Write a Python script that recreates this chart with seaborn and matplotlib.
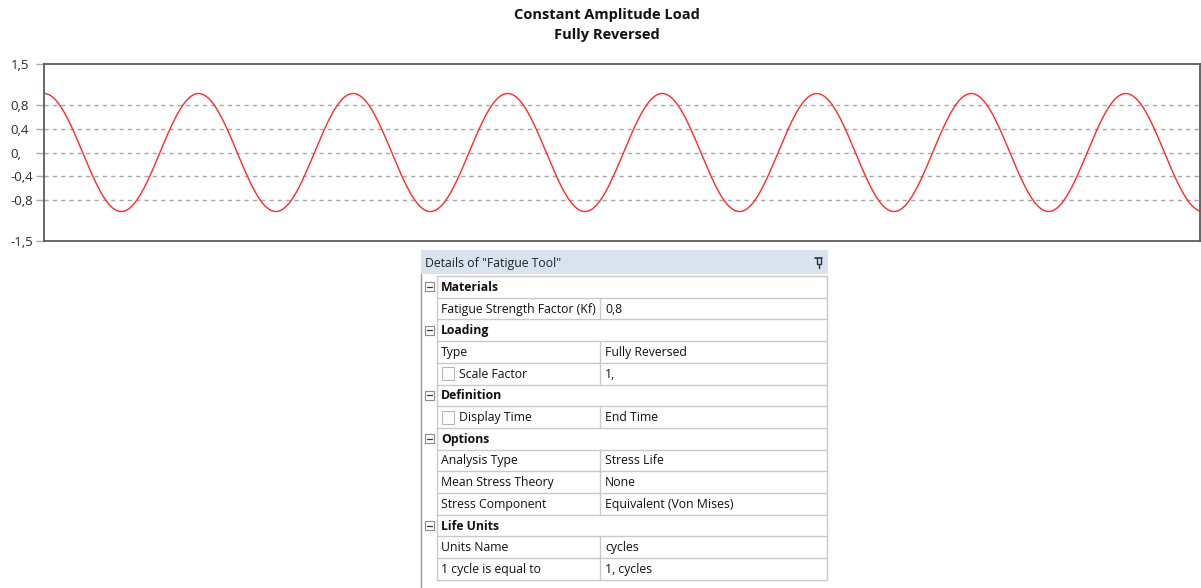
import numpy as np
import pandas as pd
import matplotlib
matplotlib.use("Agg")
import matplotlib.pyplot as plt
from matplotlib.patches import Rectangle
import seaborn as sns

# --- chart data ---
title_lines = ["Constant Amplitude Load", "Fully Reversed"]
amplitude = 1.0          # peak load
n_cycles = 7.48          # cycles visible across the axis
y_ticks = [-1.5, -0.8, -0.4, 0.0, 0.4, 0.8, 1.5]
y_tick_labels = ["-1,5", "-0,8", "-0,4", "0,", "0,4", "0,8", "1,5"]
grid_levels = [-0.8, -0.4, 0.0, 0.4, 0.8]

# --- details panel ---
panel_title = 'Details of "Fatigue Tool"'
row_names = ["Materials", "Fatigue Strength Factor (Kf)", "Loading", "Type", "Scale Factor",
             "Definition", "Display Time", "Options", "Analysis Type", "Mean Stress Theory",
             "Stress Component", "Life Units", "Units Name", "1 cycle is equal to"]
row_values = ["", "0,8", "", "Fully Reversed", "1,", "", "End Time", "", "Stress Life",
              "None", "Equivalent (Von Mises)", "", "cycles", "1, cycles"]
row_kinds = ["cat", "prop", "cat", "prop", "check", "cat", "check", "cat", "prop", "prop",
             "prop", "cat", "prop", "prop"]

sns.set_style("white")
plt.rcParams["font.family"] = ["Open Sans", "DejaVu Sans"]

W, H = 1201, 588
fig = plt.figure(figsize=(W / 100, H / 100), dpi=100)

# main load history axis (pixel box 44..1200 x 64..241)
ax = fig.add_axes([44 / W, 1 - 241 / H, (1200 - 44) / W, (241 - 64) / H])
t = np.linspace(0, n_cycles, 2000)
df = pd.DataFrame({"t": t, "load": amplitude * np.cos(2 * np.pi * t)})
sns.lineplot(data=df, x="t", y="load", ax=ax, color="#ff2a2a", linewidth=1.0)

for lv in grid_levels:
    ax.axhline(lv, color="#a8a8a8", linewidth=1.0, linestyle=(0, (3, 3)), zorder=0)

ax.set_xlim(0, n_cycles)
ax.set_ylim(-1.5, 1.5)
ax.set_xticks([])
ax.set_yticks(y_ticks)
ax.set_yticklabels(y_tick_labels)
ax.set_xlabel("")
ax.set_ylabel("")
ax.tick_params(axis="y", left=True, length=6, width=1, color="#a8a8a8",
               pad=18, labelsize=9.5, labelcolor="#2a2a2a")
for lab in ax.get_yticklabels():
    lab.set_horizontalalignment("left")
for sp in ax.spines.values():
    sp.set_color("#5a5a5a")
    sp.set_linewidth(1.3)

fig.text(607 / W, 1 - 15 / H, title_lines[0], ha="center", va="center",
         fontsize=10.5, fontweight="bold", color="#111111")
fig.text(607 / W, 1 - 35 / H, title_lines[1], ha="center", va="center",
         fontsize=10.5, fontweight="bold", color="#111111")

# details panel drawn in pixel coordinates
tab = fig.add_axes([0, 0, 1, 1], facecolor="none")
tab.set_xlim(0, W)
tab.set_ylim(H, 0)
tab.axis("off")

x0, x_gut, x_mid, x1 = 421, 437, 600, 827
hdr_top, hdr_bot = 250, 274
row_top, row_h = 276, 21.7
line_c = "#c9c9c9"
fs = 8.8

tab.add_patch(Rectangle((x0, hdr_top), x1 + 1 - x0, hdr_bot - hdr_top,
                        facecolor="#d8e3ef", edgecolor="none"))
tab.text(x0 + 4, (hdr_top + hdr_bot) / 2 + 1, panel_title, ha="left", va="center",
         fontsize=fs, color="#222222")
# pin icon
tab.plot([815, 822], [258, 258], color="#333333", lw=1.2)
tab.plot([816.5, 816.5, 820.5, 820.5], [258, 264, 264, 258], color="#333333", lw=1.0)
tab.plot([818.5, 818.5], [264, 268], color="#333333", lw=1.0)

# left frame of panel
tab.plot([x0, x0], [hdr_bot, H], color="#9a9a9a", lw=1.0)

n = len(row_names)
bottom = row_top + n * row_h
tab.plot([x_gut, x_gut], [row_top, bottom], color=line_c, lw=1.0)
tab.plot([x1, x1], [row_top, bottom], color=line_c, lw=1.0)
for i in range(n + 1):
    y = row_top + i * row_h
    tab.plot([x_gut, x1], [y, y], color=line_c, lw=1.0)

for i, (name, val, kind) in enumerate(zip(row_names, row_values, row_kinds)):
    y = row_top + i * row_h
    yc = y + row_h / 2 + 0.5
    if kind == "cat":
        tab.add_patch(Rectangle((425, yc - 5), 9, 9, facecolor="white",
                                edgecolor="#8a8a8a", lw=0.8))
        tab.plot([427, 432], [yc - 0.5, yc - 0.5], color="#333333", lw=0.9)
        tab.text(x_gut + 4, yc, name, ha="left", va="center", fontsize=fs,
                 fontweight="bold", color="#111111")
        continue
    tab.plot([x_mid, x_mid], [y, y + row_h], color=line_c, lw=1.0)
    tx = x_gut + 4
    if kind == "check":
        tab.add_patch(Rectangle((442, yc - 7), 12, 13, facecolor="white",
                                edgecolor="#b5b5b5", lw=0.8))
        tx = 459
    tab.text(tx, yc, name, ha="left", va="center", fontsize=fs, color="#111111")
    tab.text(x_mid + 5, yc, val, ha="left", va="center", fontsize=fs, color="#111111")

fig.savefig("out.png", dpi=100)
